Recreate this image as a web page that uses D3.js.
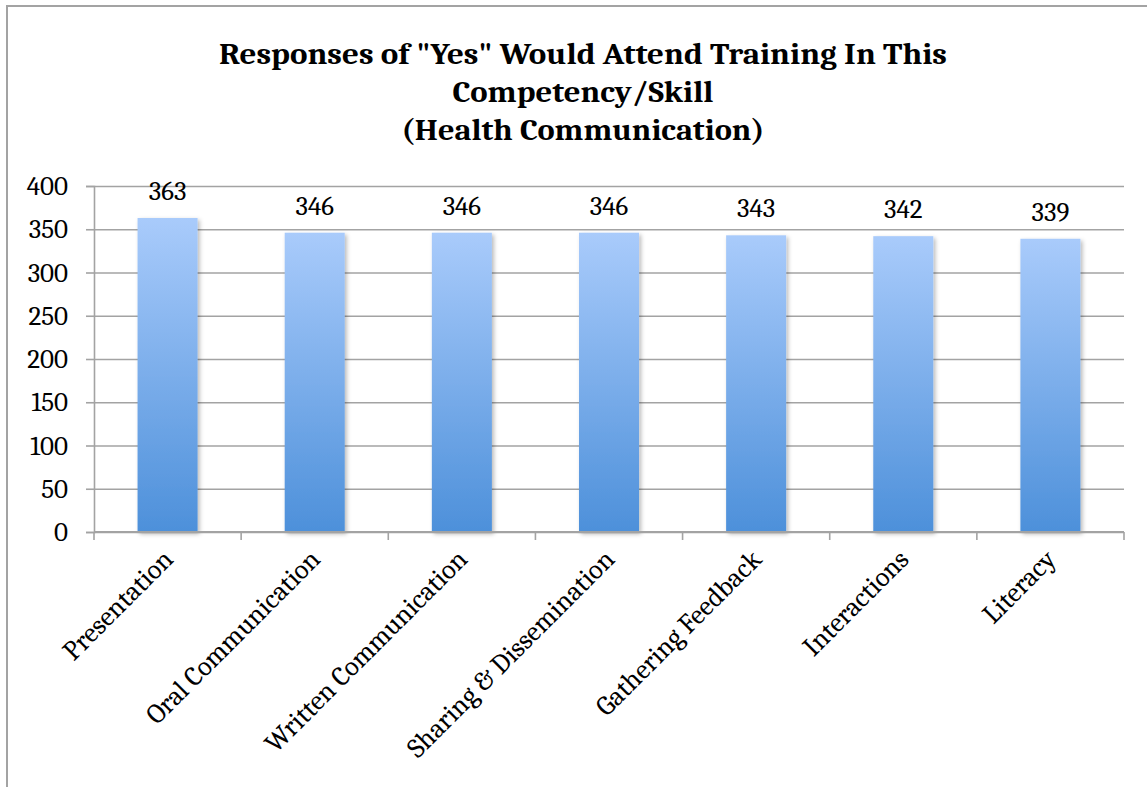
<!DOCTYPE html>
<html>
<head>
<meta charset="utf-8">
<script src="https://cdn.jsdelivr.net/npm/d3@7"></script>
<style>
  html, body { margin: 0; padding: 0; background: #fff; }
  svg { display: block; }
</style>
</head>
<body>
<svg id="chart" width="1147" height="787"></svg>
<script>
// Health Communication competencies and count of "Yes" responses
const categories = [
  "Presentation",
  "Oral Communication",
  "Written Communication",
  "Sharing & Dissemination",
  "Gathering Feedback",
  "Interactions",
  "Literacy"
];
const yesCounts = [363, 346, 346, 346, 343, 342, 339];
const yTicks = [0, 50, 100, 150, 200, 250, 300, 350, 400];
const titleLines = [
  'Responses of "Yes" Would Attend Training In This',
  'Competency/Skill',
  '(Health Communication)'
];

const svg = d3.select("#chart");
const W = 1147, H = 787;
const plot = { left: 94, right: 1124, top: 186, bottom: 532 };
const gridColor = "#a3a3a3";
const serif = "Cambria, 'Liberation Serif', 'DejaVu Serif', serif";

const defs = svg.append("defs");
const grad = defs.append("linearGradient")
  .attr("id", "barFill").attr("x1", 0).attr("y1", 0).attr("x2", 0).attr("y2", 1);
grad.append("stop").attr("offset", "0%").attr("stop-color", "#a9cbfb");
grad.append("stop").attr("offset", "100%").attr("stop-color", "#4d90da");

const shadow = defs.append("filter").attr("id", "barShadow")
  .attr("x", "-20%").attr("y", "-5%").attr("width", "140%").attr("height", "115%");
shadow.append("feDropShadow")
  .attr("dx", 2).attr("dy", 2).attr("stdDeviation", 2)
  .attr("flood-color", "#000").attr("flood-opacity", 0.28);

// outer chart frame (left and top edges)
svg.append("path")
  .attr("d", `M7,${H} L7,6 L${W},6`)
  .attr("fill", "none").attr("stroke", gridColor).attr("stroke-width", 2);

// title
const title = svg.append("text")
  .attr("text-anchor", "middle")
  .attr("font-family", serif)
  .attr("font-weight", "bold")
  .attr("font-size", 31)
  .attr("fill", "#000");
const titleWidths = [728, 261, 363];
titleLines.forEach((line, i) => {
  title.append("tspan")
    .attr("x", 583)
    .attr("y", 64 + i * 38)
    .attr("textLength", titleWidths[i])
    .attr("lengthAdjust", "spacingAndGlyphs")
    .text(line);
});

const x = d3.scaleBand()
  .domain(categories)
  .range([plot.left, plot.right])
  .paddingInner(0.592)
  .paddingOuter(0.296);

const y = d3.scaleLinear()
  .domain([0, 400])
  .range([plot.bottom, plot.top]);

// horizontal gridlines
svg.append("g")
  .attr("transform", `translate(${plot.left},0)`)
  .call(d3.axisLeft(y).tickValues(yTicks).tickSize(-(plot.right - plot.left)).tickFormat(""))
  .call(g => g.select(".domain").remove())
  .call(g => g.selectAll("line").attr("stroke", gridColor).attr("stroke-width", 1.6));

// y axis with outer ticks and labels
svg.append("g")
  .attr("transform", `translate(${plot.left},0)`)
  .call(d3.axisLeft(y).tickValues(yTicks).tickSize(8).tickPadding(18))
  .call(g => g.select(".domain").attr("stroke", gridColor).attr("stroke-width", 1.6))
  .call(g => g.selectAll("line").attr("stroke", gridColor).attr("stroke-width", 1.6))
  .call(g => g.selectAll("text")
    .attr("font-family", serif).attr("font-size", 27).attr("fill", "#000"));

// bars
svg.append("g")
  .selectAll("rect")
  .data(yesCounts)
  .join("rect")
  .attr("x", (d, i) => x(categories[i]))
  .attr("y", d => y(d))
  .attr("width", x.bandwidth())
  .attr("height", d => y(0) - y(d))
  .attr("fill", "url(#barFill)")
  .attr("filter", "url(#barShadow)");

// x axis: baseline with ticks at category boundaries
const boundaries = d3.range(categories.length + 1).map(i => plot.left + i * x.step());
const xAxis = svg.append("g");
xAxis.append("line")
  .attr("x1", plot.left).attr("x2", plot.right)
  .attr("y1", y(0)).attr("y2", y(0))
  .attr("stroke", gridColor).attr("stroke-width", 1.8);
xAxis.selectAll("line.tick")
  .data(boundaries)
  .join("line")
  .attr("class", "tick")
  .attr("x1", d => d).attr("x2", d => d)
  .attr("y1", y(0)).attr("y2", y(0) + 8)
  .attr("stroke", gridColor).attr("stroke-width", 1.6);

// category labels, rotated 45 degrees
svg.append("g")
  .selectAll("text")
  .data(categories)
  .join("text")
  .attr("transform", d => `translate(${x(d) + x.bandwidth() / 2 + 7},${y(0) + 29}) rotate(-45)`)
  .attr("text-anchor", "end")
  .attr("font-family", serif)
  .attr("font-size", 27.5)
  .attr("fill", "#000")
  .text(d => d);

// value labels above bars
svg.append("g")
  .selectAll("text")
  .data(yesCounts)
  .join("text")
  .attr("x", (d, i) => x(categories[i]) + x.bandwidth() / 2)
  .attr("y", d => y(d) - 18)
  .attr("text-anchor", "middle")
  .attr("font-family", serif)
  .attr("font-size", 27)
  .attr("fill", "#000")
  .text(d => d);
</script>
</body>
</html>
